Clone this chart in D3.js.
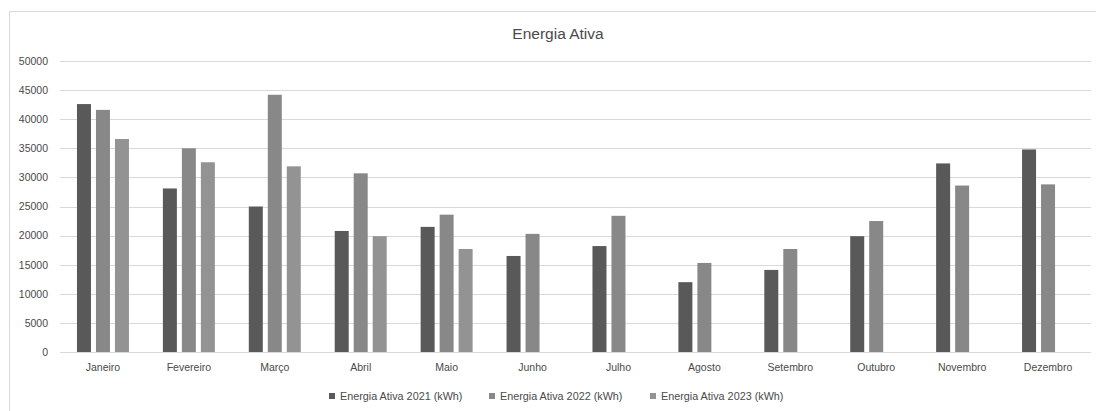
<!DOCTYPE html>
<html><head><meta charset="utf-8">
<script src="https://cdn.jsdelivr.net/npm/d3@7"></script>
<style>body{margin:0;background:#fff;}svg{display:block;font-family:"Liberation Sans",Arial,sans-serif;}</style>
</head><body><svg id="c" width="1096" height="411"></svg>
<script>
const months = ["Janeiro","Fevereiro","Março","Abril","Maio","Junho","Julho","Agosto","Setembro","Outubro","Novembro","Dezembro"];
const seriesNames = ["Energia Ativa 2021 (kWh)","Energia Ativa 2022 (kWh)","Energia Ativa 2023 (kWh)"];
const v2021 = [42600,28100,25000,20800,21500,16500,18200,12000,14100,19900,32400,34800];
const v2022 = [41600,35000,44200,30700,23600,20300,23400,15300,17700,22500,28600,28800];
const v2023 = [36600,32600,31900,19900,17700,null,null,null,null,null,null,null];
const yTicks = [0,5000,10000,15000,20000,25000,30000,35000,40000,45000,50000];
const colors = ["#595959","#888888","#939393"];
const title = "Energia Ativa";

const svg = d3.select("#c");
const L = 60, R = 1091, T = 61, B = 352;
svg.append("rect").attr("x",9.5).attr("y",11.5).attr("width",1100).attr("height",420)
  .attr("fill","#fff").attr("stroke","#d9d9d9");

const y = d3.scaleLinear().domain([0,50000]).range([B,T]);
const x0 = d3.scaleBand().domain(months).range([L,R]).paddingInner(0.395).paddingOuter(0.1975);
const x1 = d3.scaleBand().domain(seriesNames).range([0,x0.bandwidth()]).paddingInner(5/19).paddingOuter(0);
const all = [v2021,v2022,v2023];

svg.append("g").selectAll("line").data(yTicks).join("line")
  .attr("x1",L).attr("x2",R).attr("y1",d=>Math.round(y(d))+0.5).attr("y2",d=>Math.round(y(d))+0.5)
  .attr("stroke","#d9d9d9").attr("stroke-width",1);

const yAxis = d3.axisLeft(y).tickValues(yTicks).tickSize(0).tickPadding(12).tickFormat(d=>String(d));
const ga = svg.append("g").attr("transform",`translate(${L},0)`).call(yAxis);
ga.select(".domain").remove();
ga.selectAll("text").attr("fill","#4a4a4a").attr("font-size",10.5).attr("font-family","Liberation Sans, Arial, sans-serif");

seriesNames.forEach((s,i)=>{
  svg.append("g").selectAll("rect").data(months.map((m,j)=>({m,v:all[i][j]})).filter(d=>d.v!=null)).join("rect")
    .attr("x",d=>x0(d.m)+x1(s)).attr("width",x1.bandwidth())
    .attr("y",d=>y(d.v)).attr("height",d=>y(0)-y(d.v))
    .attr("fill",colors[i]);
});

const xAxis = d3.axisBottom(x0).tickSize(0).tickPadding(12);
const gx = svg.append("g").attr("transform",`translate(0,${B})`).call(xAxis);
gx.select(".domain").remove();
gx.selectAll("text").attr("fill","#4a4a4a").attr("font-size",10.5).attr("font-family","Liberation Sans, Arial, sans-serif");
svg.append("line").attr("x1",L).attr("x2",R).attr("y1",B+0.5).attr("y2",B+0.5).attr("stroke","#d9d9d9");

svg.append("text").attr("x",558).attr("y",39).attr("text-anchor","middle")
  .attr("font-size",15.5).attr("fill","#4a4a4a").text(title);

const legX = [329,489,650];
const lg = svg.append("g");
seriesNames.forEach((s,i)=>{
  lg.append("rect").attr("x",legX[i]).attr("y",393).attr("width",6).attr("height",6).attr("fill",colors[i]);
  lg.append("text").attr("x",legX[i]+11).attr("y",400).attr("font-size",10.8).attr("fill","#4a4a4a").text(s);
});
</script></body></html>
